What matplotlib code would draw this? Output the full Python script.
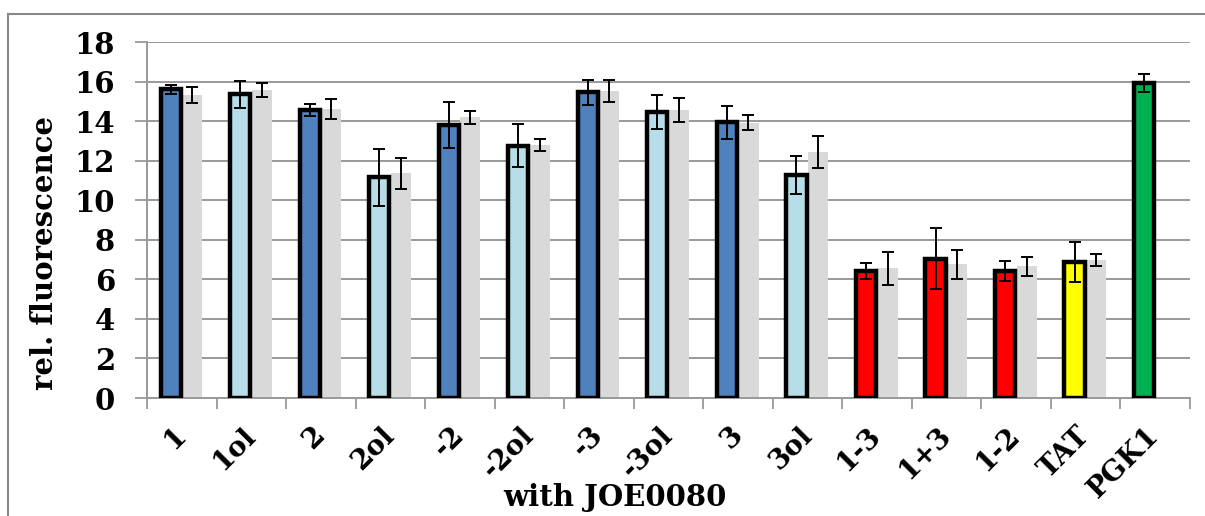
import matplotlib
matplotlib.use("Agg")
import matplotlib.pyplot as plt
from matplotlib.lines import Line2D
import numpy as np

categories = ["1", "1ol", "2", "2ol", "-2", "-2ol", "-3", "-3ol", "3", "3ol",
              "1-3", "1+3", "1-2", "TAT", "PGK1"]
main_values = [15.6, 15.35, 14.56, 11.15, 13.8, 12.76, 15.45, 14.44, 13.94, 11.28,
               6.43, 7.05, 6.43, 6.87, 15.91]
main_errors = [0.25, 0.7, 0.3, 1.43, 1.15, 1.1, 0.64, 0.86, 0.84, 0.96,
               0.41, 1.56, 0.51, 1.0, 0.46]
main_colors = ["#4F81BD", "#B7DEE8", "#4F81BD", "#B7DEE8", "#4F81BD", "#B7DEE8",
               "#4F81BD", "#B7DEE8", "#4F81BD", "#B7DEE8",
               "#FF0000", "#FF0000", "#FF0000", "#FFFF00", "#00B050"]
ref_values = [15.32, 15.57, 14.6, 11.36, 14.19, 12.79, 15.52, 14.56, 13.92, 12.44,
              6.55, 6.77, 6.65, 6.97]
ref_errors = [0.42, 0.35, 0.5, 0.8, 0.33, 0.32, 0.57, 0.6, 0.37, 0.8,
              0.83, 0.73, 0.48, 0.3]
y_ticks = [0, 2, 4, 6, 8, 10, 12, 14, 16, 18]

W, H = 1205, 516
fig = plt.figure(figsize=(W / 100, H / 100), dpi=100)
ax = fig.add_axes([147 / W, 1 - 398 / H, (1190 - 147) / W, (398 - 42) / H])

font = "DejaVu Serif"
x = np.arange(len(categories))
bw = 0.29

ax.bar(x[:len(ref_values)] + 0.15, ref_values, width=bw, color="#D9D9D9",
       edgecolor="none", zorder=2)
ax.errorbar(x[:len(ref_values)] + 0.15, ref_values, yerr=ref_errors, fmt="none",
            ecolor="black", elinewidth=1.4, capsize=4, capthick=1.4, zorder=4)
ax.bar(x - 0.16, main_values, width=bw, color=main_colors,
       edgecolor="black", linewidth=3.2, zorder=3)
ax.errorbar(x - 0.16, main_values, yerr=main_errors, fmt="none",
            ecolor="black", elinewidth=1.4, capsize=4, capthick=1.4, zorder=5)

ax.set_xlim(-0.5, len(categories) - 0.5)
ax.set_ylim(0, 18)
ax.set_yticks(y_ticks)
ax.set_yticklabels([str(v) for v in y_ticks], fontfamily=font,
                   fontweight="bold", fontsize=21)
ax.yaxis.grid(True, color="#999999", linewidth=1.4, zorder=0)
ax.set_axisbelow(True)

ax.set_xticks(x)
ax.set_xticklabels(categories, rotation=45, ha="right", va="center",
                   rotation_mode="anchor", fontfamily=font,
                   fontweight="bold", fontsize=20)
ax.tick_params(axis="x", which="major", length=0, pad=24)
ax.set_xticks(np.arange(len(categories) + 1) - 0.5, minor=True)
ax.tick_params(axis="x", which="minor", length=8, width=1.3, color="#999999",
               direction="out")
ax.tick_params(axis="y", length=9, width=1.3, color="#999999", pad=14)

for s in ["top", "right"]:
    ax.spines[s].set_visible(False)
for s in ["left", "bottom"]:
    ax.spines[s].set_color("#999999")
    ax.spines[s].set_linewidth(1.4)

fig.text(45 / W, 1 - 253 / H, "rel. fluorescence", rotation=90,
         ha="center", va="center", fontfamily=font, fontweight="bold",
         fontsize=21)
fig.text(615 / W, 1 - 498 / H, "with JOE0080", ha="center", va="center",
         fontfamily=font, fontweight="bold", fontsize=21)

# outer chart border
fig.add_artist(Line2D([8 / W, 1.0], [1 - 14 / H, 1 - 14 / H],
                      transform=fig.transFigure, color="#888888", linewidth=1.5))
fig.add_artist(Line2D([8 / W, 8 / W], [0.0, 1 - 14 / H],
                      transform=fig.transFigure, color="#888888", linewidth=1.5))

fig.savefig("out.png", dpi=100)
